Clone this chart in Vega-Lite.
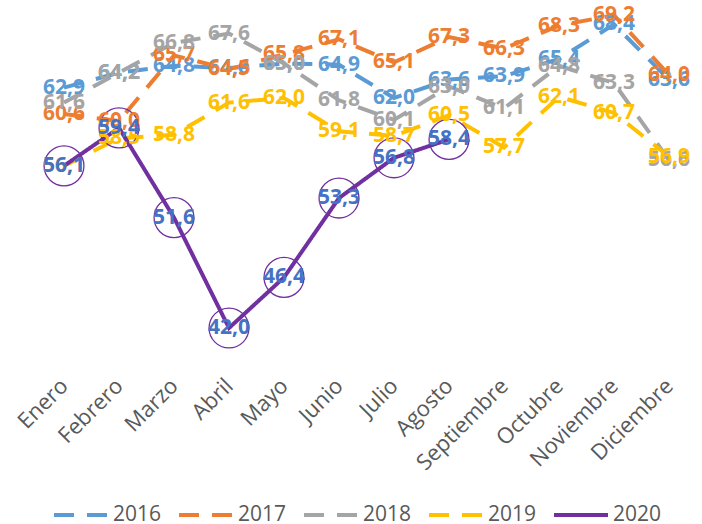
{
  "$schema": "https://vega.github.io/schema/vega-lite/v6.json",
  "autosize": {"type": "none"},
  "width": 660,
  "height": 345,
  "padding": {"left": 36.5, "top": 6, "right": 5.5, "bottom": 173},
  "background": "white",
  "config": {
    "view": {"stroke": null},
    "locale": {"number": {"decimal": ",", "thousands": ".", "grouping": [3], "currency": ["", " €"]}}
  },
  "data": {
    "values": [
      {"month": "Enero", "year": "2016", "value": 62.9},
      {"month": "Febrero", "year": "2016", "value": 64.2},
      {"month": "Marzo", "year": "2016", "value": 64.8},
      {"month": "Abril", "year": "2016", "value": 64.6},
      {"month": "Mayo", "year": "2016", "value": 65.0},
      {"month": "Junio", "year": "2016", "value": 64.9},
      {"month": "Julio", "year": "2016", "value": 62.0},
      {"month": "Agosto", "year": "2016", "value": 63.6},
      {"month": "Septiembre", "year": "2016", "value": 63.9},
      {"month": "Octubre", "year": "2016", "value": 65.4},
      {"month": "Noviembre", "year": "2016", "value": 68.4},
      {"month": "Diciembre", "year": "2016", "value": 63.6},
      {"month": "Enero", "year": "2017", "value": 60.6},
      {"month": "Febrero", "year": "2017", "value": 60.0},
      {"month": "Marzo", "year": "2017", "value": 65.7},
      {"month": "Abril", "year": "2017", "value": 64.5},
      {"month": "Mayo", "year": "2017", "value": 65.8},
      {"month": "Junio", "year": "2017", "value": 67.1},
      {"month": "Julio", "year": "2017", "value": 65.1},
      {"month": "Agosto", "year": "2017", "value": 67.3},
      {"month": "Septiembre", "year": "2017", "value": 66.3},
      {"month": "Octubre", "year": "2017", "value": 68.3},
      {"month": "Noviembre", "year": "2017", "value": 69.2},
      {"month": "Diciembre", "year": "2017", "value": 64.0},
      {"month": "Enero", "year": "2018", "value": 61.6},
      {"month": "Febrero", "year": "2018", "value": 64.2},
      {"month": "Marzo", "year": "2018", "value": 66.8},
      {"month": "Abril", "year": "2018", "value": 67.6},
      {"month": "Mayo", "year": "2018", "value": 65.0},
      {"month": "Junio", "year": "2018", "value": 61.8},
      {"month": "Julio", "year": "2018", "value": 60.1},
      {"month": "Agosto", "year": "2018", "value": 63.0},
      {"month": "Septiembre", "year": "2018", "value": 61.1},
      {"month": "Octubre", "year": "2018", "value": 64.8},
      {"month": "Noviembre", "year": "2018", "value": 63.3},
      {"month": "Diciembre", "year": "2018", "value": 56.6},
      {"month": "Enero", "year": "2019", "value": 56.1},
      {"month": "Febrero", "year": "2019", "value": 58.5},
      {"month": "Marzo", "year": "2019", "value": 58.8},
      {"month": "Abril", "year": "2019", "value": 61.6},
      {"month": "Mayo", "year": "2019", "value": 62.0},
      {"month": "Junio", "year": "2019", "value": 59.1},
      {"month": "Julio", "year": "2019", "value": 58.7},
      {"month": "Agosto", "year": "2019", "value": 60.5},
      {"month": "Septiembre", "year": "2019", "value": 57.7},
      {"month": "Octubre", "year": "2019", "value": 62.1},
      {"month": "Noviembre", "year": "2019", "value": 60.7},
      {"month": "Diciembre", "year": "2019", "value": 56.9},
      {"month": "Enero", "year": "2020", "value": 56.1},
      {"month": "Febrero", "year": "2020", "value": 59.4},
      {"month": "Marzo", "year": "2020", "value": 51.6},
      {"month": "Abril", "year": "2020", "value": 42.0},
      {"month": "Mayo", "year": "2020", "value": 46.4},
      {"month": "Junio", "year": "2020", "value": 53.3},
      {"month": "Julio", "year": "2020", "value": 56.8},
      {"month": "Agosto", "year": "2020", "value": 58.4}
    ]
  },
  "encoding": {
    "x": {
      "field": "month",
      "type": "nominal",
      "scale": {"type": "point", "padding": 0.5, "domain": ["Enero", "Febrero", "Marzo", "Abril", "Mayo", "Junio", "Julio", "Agosto", "Septiembre", "Octubre", "Noviembre", "Diciembre"]},
      "axis": {
        "title": null,
        "domain": false,
        "ticks": false,
        "grid": false,
        "labelAngle": -45,
        "labelAlign": "right",
        "labelBaseline": "middle",
        "labelPadding": 31,
        "labelFont": "Open Sans",
        "labelFontSize": 22,
        "labelColor": "#595959",
        "labelOverlap": false
      }
    },
    "y": {
      "field": "value",
      "type": "quantitative",
      "scale": {"domain": [40, 70], "zero": false, "nice": false},
      "axis": null
    }
  },
  "layer": [
    {
      "mark": {"type": "line", "strokeWidth": 4, "strokeCap": "butt"},
      "encoding": {
        "color": {
          "field": "year",
          "type": "nominal",
          "scale": {"domain": ["2016", "2017", "2018", "2019", "2020"], "range": ["#5B9BD5", "#ED7D31", "#A5A5A5", "#FFC000", "#7030A0"]},
          "legend": {
            "title": null,
            "orient": "none",
            "legendX": 15.5,
            "legendY": 480,
            "direction": "horizontal",
            "columns": 5,
            "symbolType": "stroke",
            "symbolSize": 2916,
            "symbolStrokeWidth": 4,
            "labelFont": "Open Sans",
            "labelFontSize": 21,
            "labelColor": "#595959",
            "labelOffset": 3,
            "columnPadding": 9
          }
        },
        "strokeDash": {
          "field": "year",
          "type": "nominal",
          "scale": {"domain": ["2016", "2017", "2018", "2019", "2020"], "range": [[20, 13], [20, 13], [20, 13], [20, 13], [1, 0]]},
          "legend": {
            "title": null,
            "orient": "none",
            "legendX": 15.5,
            "legendY": 480,
            "direction": "horizontal",
            "columns": 5,
            "symbolType": "stroke",
            "symbolSize": 2916,
            "symbolStrokeWidth": 4,
            "labelFont": "Open Sans",
            "labelFontSize": 21,
            "labelColor": "#595959",
            "labelOffset": 3,
            "columnPadding": 9
          }
        }
      }
    },
    {
      "transform": [{"filter": "datum.year === '2020'"}],
      "mark": {"type": "point", "shape": "circle", "filled": false, "size": 1590, "strokeWidth": 1.3, "color": "#7030A0", "opacity": 1}
    },
    {
      "transform": [{"filter": "datum.year !== '2020'"}],
      "mark": {"type": "text", "font": "Open Sans", "fontSize": 21, "fontWeight": "bold", "align": "center", "baseline": "middle"},
      "encoding": {
        "text": {"field": "value", "type": "quantitative", "format": ".1f"},
        "color": {"field": "year", "type": "nominal", "legend": null}
      }
    },
    {
      "transform": [{"filter": "datum.year === '2020'"}],
      "mark": {"type": "text", "font": "Open Sans", "fontSize": 21, "fontWeight": "bold", "align": "center", "baseline": "middle", "color": "#4472C4"},
      "encoding": {
        "text": {"field": "value", "type": "quantitative", "format": ".1f"}
      }
    }
  ]
}
